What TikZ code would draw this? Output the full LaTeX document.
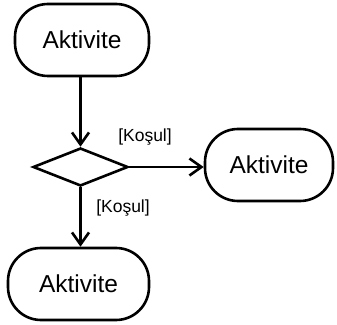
\documentclass[tikz,border=0pt]{standalone}
\usepackage{fontspec}
\setmainfont{Liberation Sans}
\usetikzlibrary{shapes.geometric,arrows.meta}
\begin{document}
\begin{tikzpicture}[x=1pt,y=1pt,
  activity/.style={draw, line width=2.6pt, rounded corners=33pt,
    minimum height=72pt, inner sep=0pt, font=\fontsize{24.5}{28}\selectfont},
  decision/.style={draw, line width=2.6pt, shape=diamond, inner sep=0pt,
    minimum width=95pt, minimum height=38pt},
  flow/.style={line width=2.6pt, -{Straight Barb[length=12pt,width=17pt,line width=2.6pt]}},
  guard/.style={font=\fontsize{17.5}{20}\selectfont, inner sep=0pt}]
  \useasboundingbox (0,0) rectangle (337,324);

  % activities and the decision point
  \node[activity, minimum width=134pt] (top) at (82,284) {Aktivite};
  \node[decision] (dec) at (80.5,157) {};
  \node[activity, minimum width=128pt] (right) at (269,159) {Aktivite};
  \node[activity, minimum width=141pt] (bottom) at (78.5,40) {Aktivite};

  % control flow
  \draw[flow] (top.south -| dec.north) -- (dec.north);
  \draw[flow] (dec.east) -- (dec.east -| right.west);
  \draw[flow] (dec.south) -- (dec.south |- bottom.north);

  % guard conditions
  \node[guard] (g1) at (145,187) {[Koşul]};
  \node[guard] (g2) at (123,116) {[Koşul]};
\end{tikzpicture}
\end{document}
